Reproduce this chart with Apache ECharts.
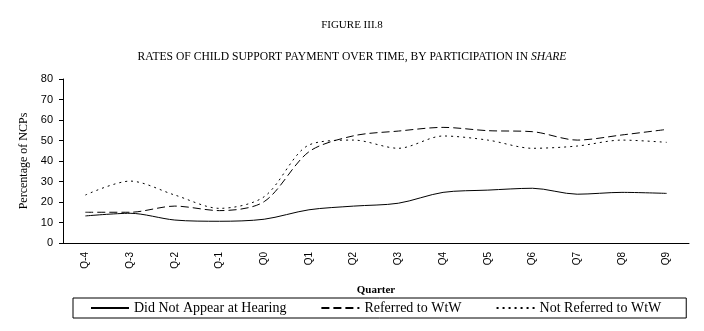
<html>
<head>
<meta charset="UTF-8">
<title>Figure III.8</title>
<script src="https://cdn.jsdelivr.net/npm/echarts@6/dist/echarts.min.js"></script>
<style>
    body{ margin:0; background:#fff; }
    #main{ width:704px; height:331px; }
</style>
</head>
<body>
<div id="main"></div>
<script>
var quarters = ['Q-4','Q-3','Q-2','Q-1','Q0','Q1','Q2','Q3','Q4','Q5','Q6','Q7','Q8','Q9'];
var didNotAppear = [13.2, 14.5, 11.2, 10.6, 11.6, 16.2, 18, 19.4, 24.7, 25.8, 26.7, 23.8, 24.7, 24.2];
var referred     = [15, 15, 18, 15.8, 20.2, 44.5, 52.3, 54.6, 56.4, 54.8, 54.3, 50.2, 52.7, 55.4];
var notReferred  = [23.4, 30.2, 23.4, 16.9, 22.6, 47.8, 50.2, 46.2, 52.2, 50.2, 46.2, 47.3, 50.2, 49.1];
var yTicks = [0, 10, 20, 30, 40, 50, 60, 70, 80];

var serif = '"Liberation Serif", "DejaVu Serif", serif';
var sans = '"Liberation Sans", Arial, sans-serif';

var myChart = echarts.init(document.getElementById('main'));

function lineSeries(name, data, type) {
    return {
        name: name,
        type: 'line',
        data: data,
        symbol: 'none',
        smooth: 0.3,
        lineStyle: { color: '#000', width: 1, type: type },
        itemStyle: { color: '#000' }
    };
}

var option = {
    animation: false,
    backgroundColor: '#fff',
    textStyle: { fontFamily: serif, color: '#000' },
    title: [{
        text: 'FIGURE III.8',
        left: 'center',
        top: 15,
        textStyle: { fontFamily: serif, fontSize: 11, fontWeight: 'normal', color: '#000' }
    }, {
        text: 'RATES OF CHILD SUPPORT PAYMENT OVER TIME, BY PARTICIPATION IN {i|SHARE}',
        left: 'center',
        top: 46,
        textStyle: {
            fontFamily: serif, fontSize: 11.6, fontWeight: 'normal', color: '#000',
            rich: { i: { fontFamily: serif, fontSize: 11.6, fontStyle: 'italic', color: '#000' } }
        }
    }],
    legend: {
        left: 73,
        top: 298,
        padding: [3, 25, 3, 17],
        itemGap: 34,
        itemWidth: 38,
        itemHeight: 10,
        borderColor: '#000',
        borderWidth: 1,
        borderRadius: 0,
        itemStyle: { opacity: 0 },
        textStyle: { fontFamily: serif, fontSize: 14, color: '#000' },
        data: ['Did Not Appear at Hearing', 'Referred to WtW', 'Not Referred to WtW']
    },
    grid: { left: 63, right: 15, top: 79, bottom: 88, containLabel: false },
    xAxis: {
        type: 'category',
        data: quarters,
        boundaryGap: true,
        name: 'Quarter',
        nameLocation: 'middle',
        nameGap: 42,
        nameTextStyle: { fontFamily: serif, fontSize: 11, fontWeight: 'bold', color: '#000' },
        axisLine: { lineStyle: { color: '#000', width: 1 } },
        axisTick: { alignWithLabel: false, length: 4, lineStyle: { color: '#000' } },
        axisLabel: { rotate: 90, margin: 9, fontFamily: sans, fontSize: 10, color: '#000' }
    },
    yAxis: {
        type: 'value',
        min: yTicks[0],
        max: yTicks[yTicks.length - 1],
        interval: 10,
        name: 'Percentage of NCPs',
        nameLocation: 'middle',
        nameGap: 32,
        nameTextStyle: { fontFamily: serif, fontSize: 12, color: '#000' },
        axisLine: { show: true, lineStyle: { color: '#000', width: 1 } },
        axisTick: { show: true, length: 4, lineStyle: { color: '#000' } },
        axisLabel: { margin: 10, fontFamily: sans, fontSize: 11, color: '#000' },
        splitLine: { show: false }
    },
    series: [
        lineSeries('Did Not Appear at Hearing', didNotAppear, 'solid'),
        lineSeries('Referred to WtW', referred, [8, 4]),
        lineSeries('Not Referred to WtW', notReferred, [2, 4])
    ]
};

myChart.setOption(option);
</script>
</body>
</html>
